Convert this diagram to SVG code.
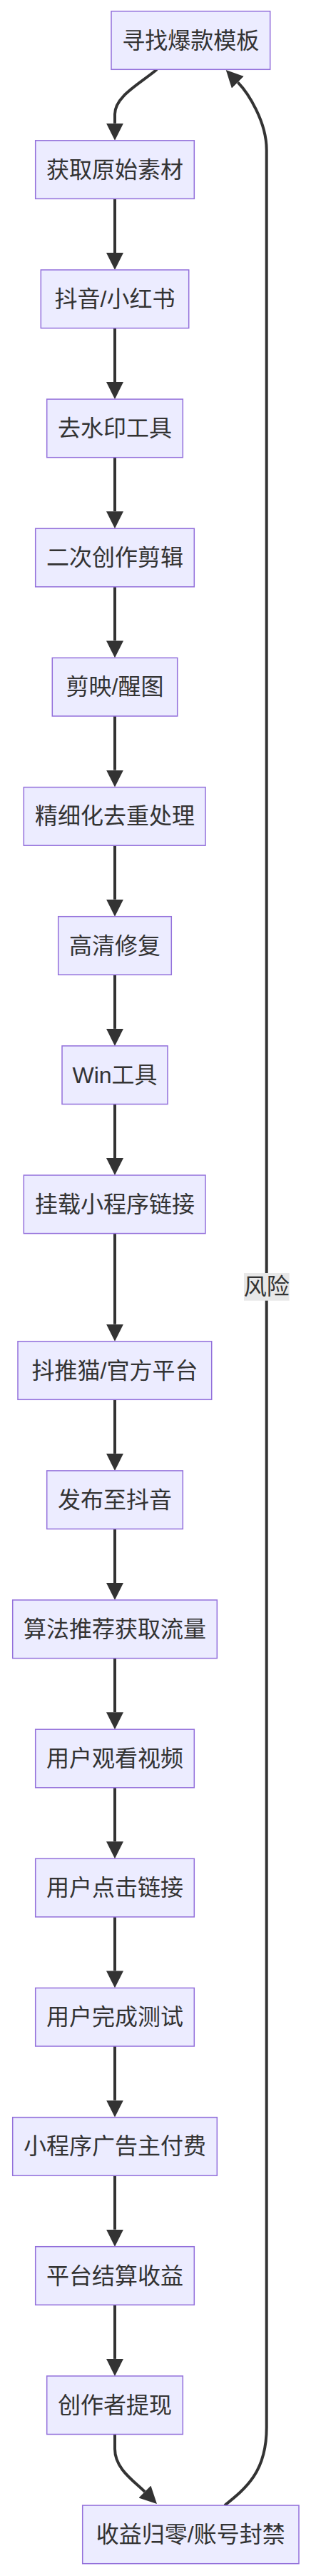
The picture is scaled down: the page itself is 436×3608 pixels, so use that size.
<svg xmlns="http://www.w3.org/2000/svg" width="436" height="3608" viewBox="0 0 436 3608">
<style>
.node rect{fill:#ECECFF;stroke:#9370DB;stroke-width:1.5}
.node text,.lbl text{font-family:"Liberation Sans","Noto Sans CJK SC",sans-serif;font-size:32px;fill:#333;text-anchor:middle;dominant-baseline:central}
.edges path{fill:none;stroke:#333;stroke-width:4}
.lbl rect{fill:#e8e8e8}
</style>
<defs>
<marker id="arr" markerUnits="userSpaceOnUse" viewBox="0 0 10 10" refX="0" refY="5" markerWidth="24" markerHeight="24" orient="auto">
<path d="M0,0 L10,5 L0,10 z" fill="#333"/>
</marker>
</defs>
<rect width="436" height="3608" fill="#fff"/>
<g class="edges">
<path marker-end="url(#arr)" d="M220,97.3 C195,118 161,135 161,160 L161,172.8"/>
<path marker-end="url(#arr)" d="M161,278.4 L161,354"/>
<path marker-end="url(#arr)" d="M161,459.6 L161,535.1"/>
<path marker-end="url(#arr)" d="M161,640.7 L161,716.3"/>
<path marker-end="url(#arr)" d="M161,821.9 L161,897.4"/>
<path marker-end="url(#arr)" d="M161,1003 L161,1078.6"/>
<path marker-end="url(#arr)" d="M161,1184.2 L161,1259.7"/>
<path marker-end="url(#arr)" d="M161,1365.3 L161,1440.9"/>
<path marker-end="url(#arr)" d="M161,1546.5 L161,1622"/>
<path marker-end="url(#arr)" d="M161,1727.6 L161,1854.7"/>
<path marker-end="url(#arr)" d="M161,1960.3 L161,2035.9"/>
<path marker-end="url(#arr)" d="M161,2141.5 L161,2217"/>
<path marker-end="url(#arr)" d="M161,2322.6 L161,2398.2"/>
<path marker-end="url(#arr)" d="M161,2503.8 L161,2579.3"/>
<path marker-end="url(#arr)" d="M161,2684.9 L161,2760.4"/>
<path marker-end="url(#arr)" d="M161,2866 L161,2941.6"/>
<path marker-end="url(#arr)" d="M161,3047.2 L161,3122.7"/>
<path marker-end="url(#arr)" d="M161,3228.3 L161,3303.9"/>
<path marker-end="url(#arr)" d="M161,3409.5 L161,3430 C161,3458 188,3475 203,3490"/>
<path marker-end="url(#arr)" d="M315,3509.1 C345,3485 373.7,3462 373.7,3400 L373.7,210 C373.7,170 347.5,129.7 333.5,115.3"/>
</g>
<g class="lbl" id="label-risk">
<rect x="342" y="1783" width="63.7" height="38.7"/>
<text x="373.8" y="1802.4">风险</text>
</g>
<g class="node" id="n1"><rect x="156" y="15.7" width="222.7" height="81.6"/><text x="267.3" y="56.5">寻找爆款模板</text></g>
<g class="node" id="n2"><rect x="49.7" y="196.8" width="222.6" height="81.6"/><text x="161" y="237.6">获取原始素材</text></g>
<g class="node" id="n3"><rect x="57.3" y="378" width="207.4" height="81.6"/><text x="161" y="418.8">抖音/小红书</text></g>
<g class="node" id="n4"><rect x="65.7" y="559.1" width="190.6" height="81.6"/><text x="161" y="599.9">去水印工具</text></g>
<g class="node" id="n5"><rect x="49.7" y="740.3" width="222.6" height="81.6"/><text x="161" y="781.1">二次创作剪辑</text></g>
<g class="node" id="n6"><rect x="73.3" y="921.4" width="175.4" height="81.6"/><text x="161" y="962.2">剪映/醒图</text></g>
<g class="node" id="n7"><rect x="33.3" y="1102.6" width="254.7" height="81.6"/><text x="161" y="1143.4">精细化去重处理</text></g>
<g class="node" id="n8"><rect x="81.7" y="1283.7" width="158.6" height="81.6"/><text x="161" y="1324.5">高清修复</text></g>
<g class="node" id="n9"><rect x="87" y="1464.9" width="148" height="81.6"/><text x="161" y="1505.7">Win工具</text></g>
<g class="node" id="n10"><rect x="33.3" y="1646" width="254.7" height="81.6"/><text x="161" y="1686.8">挂载小程序链接</text></g>
<g class="node" id="n11"><rect x="25" y="1878.7" width="271.7" height="81.6"/><text x="161" y="1919.5">抖推猫/官方平台</text></g>
<g class="node" id="n12"><rect x="65.7" y="2059.9" width="190.6" height="81.6"/><text x="161" y="2100.7">发布至抖音</text></g>
<g class="node" id="n13"><rect x="17.7" y="2241" width="286.6" height="81.6"/><text x="161" y="2281.8">算法推荐获取流量</text></g>
<g class="node" id="n14"><rect x="49.7" y="2422.2" width="222.6" height="81.6"/><text x="161" y="2463">用户观看视频</text></g>
<g class="node" id="n15"><rect x="49.7" y="2603.3" width="222.6" height="81.6"/><text x="161" y="2644.1">用户点击链接</text></g>
<g class="node" id="n16"><rect x="49.7" y="2784.4" width="222.6" height="81.6"/><text x="161" y="2825.2">用户完成测试</text></g>
<g class="node" id="n17"><rect x="17.7" y="2965.6" width="286.6" height="81.6"/><text x="161" y="3006.4">小程序广告主付费</text></g>
<g class="node" id="n18"><rect x="49.7" y="3146.7" width="222.6" height="81.6"/><text x="161" y="3187.5">平台结算收益</text></g>
<g class="node" id="n19"><rect x="65.7" y="3327.9" width="190.6" height="81.6"/><text x="161" y="3368.7">创作者提现</text></g>
<g class="node" id="n20"><rect x="115.7" y="3509.1" width="303.3" height="81.6"/><text x="267.3" y="3549.9">收益归零/账号封禁</text></g>
</svg>
